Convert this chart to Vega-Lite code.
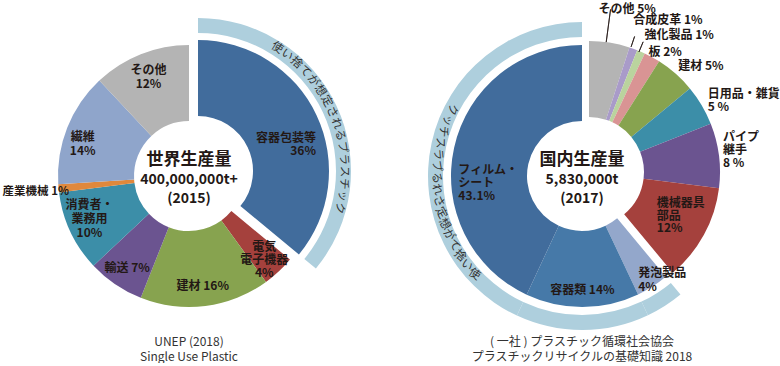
{
"$schema":"https://vega.github.io/schema/vega-lite/v6.json",
"padding":0,
"background":"white",
"spacing":15,
"bounds":"flush",
"config":{"view":{"stroke":null},"text":{"font":"Noto Sans CJK JP","color":"#231815"}},
"resolve":{"scale":{"color":"independent","theta":"independent"}},
"datasets":{
 "world":[
  {"name":"容器包装等","label":"容器包装等\n36%","value":36,"single":true},
  {"name":"電気電子機器","label":"電気\n電子機器\n4%","value":4,"single":false},
  {"name":"建材","label":"建材 16%","value":16,"single":false},
  {"name":"輸送","label":"輸送 7%","value":7,"single":false},
  {"name":"消費者・業務用","label":"消費者・\n業務用\n10%","value":10,"single":false},
  {"name":"産業機械","label":"産業機械 1%","value":1,"single":false},
  {"name":"繊維","label":"繊維\n14%","value":14,"single":false},
  {"name":"その他","label":"その他\n12%","value":12,"single":false}
 ],
 "japan":[
  {"name":"その他","label":"その他 5%","value":5,"single":false},
  {"name":"合成皮革","label":"合成皮革 1%","value":1,"single":false},
  {"name":"強化製品","label":"強化製品 1%","value":1,"single":false},
  {"name":"板","label":"板 2%","value":2,"single":false},
  {"name":"建材","label":"建材 5%","value":5,"single":false},
  {"name":"日用品・雑貨","label":"日用品・雑貨\n5 %","value":5,"single":false},
  {"name":"パイプ継手","label":"パイプ\n継手\n8 %","value":8,"single":false},
  {"name":"機械器具部品","label":"機械器具\n部品\n12%","value":12,"single":false},
  {"name":"発泡製品","label":"発泡製品\n4%","value":4,"single":true},
  {"name":"容器類","label":"容器類 14%","value":14,"single":true},
  {"name":"フィルム・シート","label":"フィルム・\nシート\n43.1%","value":43.1,"single":true}
 ],
 "band":[{"ch":"使"},{"ch":"い"},{"ch":"捨"},{"ch":"て"},{"ch":"が"},{"ch":"想"},{"ch":"定"},{"ch":"さ"},{"ch":"れ"},{"ch":"る"},{"ch":"プ"},{"ch":"ラ"},{"ch":"ス"},{"ch":"チ"},{"ch":"ッ"},{"ch":"ク"}],
 "info":[
  {"chart":"world","title":"世界生産量","amount":"400,000,000t+","year":"(2015)","source":"UNEP (2018)\nSingle Use Plastic"},
  {"chart":"japan","title":"国内生産量","amount":"5,830,000t","year":"(2017)","source":"( 一社 ) プラスチック循環社会協会\nプラスチックリサイクルの基礎知識 2018"}
 ]
},
"hconcat":[
 {
  "width":378,"height":352,
  "data":{"name":"world"},
  "transform":[{"window":[{"op":"row_number","as":"idx"}]}],
  "resolve":{"scale":{"theta":"independent"}},
  "layer":[
   {"mark":{"type":"arc","radius":131,"radius2":55},
    "encoding":{
     "theta":{"field":"value","type":"quantitative","stack":true,"scale":{"domain":[0,100]}},
     "order":{"field":"idx","type":"quantitative"},
     "color":{"field":"name","type":"nominal","legend":null,"scale":{"domain":["容器包装等","電気電子機器","建材","輸送","消費者・業務用","産業機械","繊維","その他"],"range":["#416c9c","#a5413d","#87a34f","#6b5490","#3c8ea8","#e0883c","#8fa5cb","#b4b4b4"]}},
     "opacity":{"condition":{"test":"datum.single","value":0},"value":1}}},
   {"mark":{"type":"arc","radius":131,"radius2":55,"xOffset":9,"yOffset":-5},
    "encoding":{
     "theta":{"field":"value","type":"quantitative","stack":true,"scale":{"domain":[0,100]}},
     "order":{"field":"idx","type":"quantitative"},
     "color":{"field":"name","type":"nominal","legend":null},
     "opacity":{"condition":{"test":"datum.single","value":1},"value":0}}},
   {"mark":{"type":"arc","radius":153,"radius2":138,"xOffset":9,"yOffset":-5,"color":"#aecfdd"},
    "encoding":{
     "theta":{"field":"value","type":"quantitative","stack":true,"scale":{"domain":[0,100]}},
     "order":{"field":"idx","type":"quantitative"},
     "detail":{"field":"name"},
     "opacity":{"condition":{"test":"datum.single","value":1},"value":0}}},
   {"data":{"name":"band"},
    "transform":[{"window":[{"op":"row_number","as":"i"}]}],
    "mark":{"type":"text","radius":146,"xOffset":9,"yOffset":-5,"fontSize":11.5,"color":"#333333","align":"center","baseline":"middle"},
    "encoding":{
     "text":{"field":"ch"},
     "theta":{"field":"i","type":"quantitative","scale":{"domain":[1,16],"range":[0.571,1.826],"zero":false}},
     "angle":{"field":"i","type":"quantitative","scale":{"domain":[1,16],"range":[32.7,104.6],"zero":false}}}},
   {"mark":{"type":"text","radius":110,"align":"center","baseline":"middle","dy":1,"fontSize":12,"fontWeight":"bold"},
    "encoding":{
     "theta":{"field":"value","type":"quantitative","stack":true,"scale":{"domain":[0,100]}},
     "order":{"field":"idx","type":"quantitative"},
     "detail":{"field":"name"},
     "text":{"condition":{"test":"indexof(['建材','輸送'], datum.name) >= 0","field":"label","type":"nominal"},"value":""}}},
   {"mark":{"type":"text","radius":110,"align":"center","baseline":"middle","dy":-9,"fontSize":12,"fontWeight":"bold","lineBreak":"\n","lineHeight":13},
    "encoding":{
     "theta":{"field":"value","type":"quantitative","stack":true,"scale":{"domain":[0,100]}},
     "order":{"field":"idx","type":"quantitative"},
     "detail":{"field":"name"},
     "text":{"condition":{"test":"datum.name === '電気電子機器'","field":"label","type":"nominal"},"value":""}}},
   {"mark":{"type":"text","radius":110,"align":"center","baseline":"middle","dy":-18,"fontSize":12,"fontWeight":"bold","lineBreak":"\n","lineHeight":14},
    "encoding":{
     "theta":{"field":"value","type":"quantitative","stack":true,"scale":{"domain":[0,100]}},
     "order":{"field":"idx","type":"quantitative"},
     "detail":{"field":"name"},
     "text":{"condition":{"test":"datum.name === '消費者・業務用'","field":"label","type":"nominal"},"value":""}}},
   {"mark":{"type":"text","radius":110,"align":"center","baseline":"middle","dy":-4,"fontSize":12,"fontWeight":"bold","lineBreak":"\n","lineHeight":14},
    "encoding":{
     "theta":{"field":"value","type":"quantitative","stack":true,"scale":{"domain":[0,100]}},
     "order":{"field":"idx","type":"quantitative"},
     "detail":{"field":"name"},
     "text":{"condition":{"test":"datum.name === 'その他'","field":"label","type":"nominal"},"value":""}}},
   {"mark":{"type":"text","radius":110,"align":"center","baseline":"middle","dx":-4,"dy":1.5,"fontSize":12,"fontWeight":"bold","lineBreak":"\n","lineHeight":14},
    "encoding":{
     "theta":{"field":"value","type":"quantitative","stack":true,"scale":{"domain":[0,100]}},
     "order":{"field":"idx","type":"quantitative"},
     "detail":{"field":"name"},
     "text":{"condition":{"test":"datum.name === '繊維'","field":"label","type":"nominal"},"value":""}}},
   {"mark":{"type":"text","radius":124,"align":"right","baseline":"middle","dx":3.5,"dy":4,"fontSize":11.5,"fontWeight":"bold"},
    "encoding":{
     "theta":{"field":"value","type":"quantitative","stack":true,"scale":{"domain":[0,100]}},
     "order":{"field":"idx","type":"quantitative"},
     "detail":{"field":"name"},
     "text":{"condition":{"test":"datum.name === '産業機械'","field":"label","type":"nominal"},"value":""}}},
   {"mark":{"type":"text","radius":100,"xOffset":9,"yOffset":-5,"align":"right","baseline":"middle","dx":27.5,"dy":9.6,"fontSize":12,"fontWeight":"bold","lineBreak":"\n","lineHeight":13},
    "encoding":{
     "theta":{"field":"value","type":"quantitative","stack":true,"scale":{"domain":[0,100]}},
     "order":{"field":"idx","type":"quantitative"},
     "detail":{"field":"name"},
     "text":{"condition":{"test":"datum.single","field":"label","type":"nominal"},"value":""}}},
   {"data":{"name":"info"},"transform":[{"filter":"datum.chart === 'world'"}],
    "mark":{"type":"text","dy":-16,"fontSize":17,"fontWeight":"bold","align":"center","baseline":"middle"},
    "encoding":{"text":{"field":"title"}}},
   {"data":{"name":"info"},"transform":[{"filter":"datum.chart === 'world'"}],
    "mark":{"type":"text","dy":4,"fontSize":14,"fontWeight":"bold","align":"center","baseline":"middle"},
    "encoding":{"text":{"field":"amount"}}},
   {"data":{"name":"info"},"transform":[{"filter":"datum.chart === 'world'"}],
    "mark":{"type":"text","dy":23,"fontSize":14,"fontWeight":"bold","align":"center","baseline":"middle"},
    "encoding":{"text":{"field":"year"}}},
   {"data":{"name":"info"},"transform":[{"filter":"datum.chart === 'world'"}],
    "mark":{"type":"text","dy":166,"fontSize":12,"align":"center","baseline":"middle","lineBreak":"\n","lineHeight":15,"color":"#333333"},
    "encoding":{"text":{"field":"source"}}}
  ]
 },
 {
  "width":378,"height":352,
  "data":{"name":"japan"},
  "transform":[{"window":[{"op":"row_number","as":"idx"}]}],
  "resolve":{"scale":{"theta":"independent"}},
  "layer":[
   {"mark":{"type":"arc","radius":131,"radius2":55},
    "encoding":{
     "theta":{"field":"value","type":"quantitative","stack":true,"scale":{"domain":[0,100.1]}},
     "order":{"field":"idx","type":"quantitative"},
     "color":{"field":"name","type":"nominal","legend":null,"scale":{"domain":["その他","合成皮革","強化製品","板","建材","日用品・雑貨","パイプ継手","機械器具部品","発泡製品","容器類","フィルム・シート"],"range":["#b4b4b4","#a99bc9","#bad39e","#d99494","#87a34f","#3c8ea8","#6b5490","#a5413d","#93a7cb","#4679a8","#416c9c"]}},
     "opacity":{"condition":{"test":"datum.single","value":1},"value":0}}},
   {"mark":{"type":"arc","radius":131,"radius2":55,"xOffset":7,"yOffset":-4},
    "encoding":{
     "theta":{"field":"value","type":"quantitative","stack":true,"scale":{"domain":[0,100.1]}},
     "order":{"field":"idx","type":"quantitative"},
     "color":{"field":"name","type":"nominal","legend":null},
     "opacity":{"condition":{"test":"datum.single","value":0},"value":1}}},
   {"mark":{"type":"arc","radius":154,"radius2":139,"color":"#aecfdd"},
    "encoding":{
     "theta":{"field":"value","type":"quantitative","stack":true,"scale":{"domain":[0,100.1]}},
     "order":{"field":"idx","type":"quantitative"},
     "detail":{"field":"name"},
     "opacity":{"condition":{"test":"datum.single","value":1},"value":0}}},
   {"data":{"name":"band"},
    "transform":[{"window":[{"op":"row_number","as":"i"}]}],
    "mark":{"type":"text","radius":146,"fontSize":11.5,"color":"#333333","align":"center","baseline":"middle"},
    "encoding":{
     "text":{"field":"ch"},
     "theta":{"field":"i","type":"quantitative","scale":{"domain":[1,16],"range":[3.971,5.184],"zero":false}},
     "angle":{"field":"i","type":"quantitative","scale":{"domain":[1,16],"range":[227.5,297],"zero":false}}}},
   {"transform":[{"filter":"datum.name === 'その他'"}],
    "mark":{"type":"arc","radius":164,"radius2":131,"xOffset":7,"yOffset":-4,"filled":false,"stroke":"#231815","strokeWidth":0.8},
    "encoding":{
     "theta":{"datum":2.1,"type":"quantitative","scale":{"domain":[0,100.1]}},
     "theta2":{"datum":2.1}}},
   {"transform":[{"filter":"datum.name === '合成皮革'"}],
    "mark":{"type":"arc","radius":143,"radius2":132,"xOffset":7,"yOffset":-4,"filled":false,"stroke":"#231815","strokeWidth":0.8},
    "encoding":{
     "theta":{"datum":5.17,"type":"quantitative","scale":{"domain":[0,100.1]}},
     "theta2":{"datum":5.17}}},
   {"transform":[{"filter":"datum.name === '強化製品'"}],
    "mark":{"type":"arc","radius":141,"radius2":130,"xOffset":7,"yOffset":-4,"filled":false,"stroke":"#231815","strokeWidth":0.8},
    "encoding":{
     "theta":{"datum":6.28,"type":"quantitative","scale":{"domain":[0,100.1]}},
     "theta2":{"datum":6.28}}},
   {"mark":{"type":"text","radius":114,"align":"center","baseline":"middle","fontSize":12,"fontWeight":"bold"},
    "encoding":{
     "theta":{"field":"value","type":"quantitative","stack":true,"scale":{"domain":[0,100.1]}},
     "order":{"field":"idx","type":"quantitative"},
     "detail":{"field":"name"},
     "text":{"condition":{"test":"datum.name === '容器類'","field":"label","type":"nominal"},"value":""}}},
   {"mark":{"type":"text","radius":126,"align":"left","baseline":"middle","dx":-11.5,"dy":-9,"fontSize":12,"fontWeight":"bold","lineBreak":"\n","lineHeight":14},
    "encoding":{
     "theta":{"field":"value","type":"quantitative","stack":true,"scale":{"domain":[0,100.1]}},
     "order":{"field":"idx","type":"quantitative"},
     "detail":{"field":"name"},
     "text":{"condition":{"test":"datum.name === '発泡製品'","field":"label","type":"nominal"},"value":""}}},
   {"mark":{"type":"text","radius":100,"align":"left","baseline":"middle","dx":-26,"dy":15.6,"fontSize":12,"fontWeight":"bold","lineBreak":"\n","lineHeight":13},
    "encoding":{
     "theta":{"field":"value","type":"quantitative","stack":true,"scale":{"domain":[0,100.1]}},
     "order":{"field":"idx","type":"quantitative"},
     "detail":{"field":"name"},
     "text":{"condition":{"test":"datum.name === 'フィルム・シート'","field":"label","type":"nominal"},"value":""}}},
   {"mark":{"type":"text","radius":91,"xOffset":7,"yOffset":-4,"align":"left","baseline":"middle","dx":-12,"dy":-12.7,"fontSize":12,"fontWeight":"bold","lineBreak":"\n","lineHeight":12.7},
    "encoding":{
     "theta":{"field":"value","type":"quantitative","stack":true,"scale":{"domain":[0,100.1]}},
     "order":{"field":"idx","type":"quantitative"},
     "detail":{"field":"name"},
     "text":{"condition":{"test":"datum.name === '機械器具部品'","field":"label","type":"nominal"},"value":""}}},
   {"mark":{"type":"text","radius":138,"xOffset":7,"yOffset":-4,"align":"left","baseline":"middle","dx":-3,"dy":-17.5,"fontSize":12,"fontWeight":"bold","lineBreak":"\n","lineHeight":13},
    "encoding":{
     "theta":{"field":"value","type":"quantitative","stack":true,"scale":{"domain":[0,100.1]}},
     "order":{"field":"idx","type":"quantitative"},
     "detail":{"field":"name"},
     "text":{"condition":{"test":"datum.name === 'パイプ継手'","field":"label","type":"nominal"},"value":""}}},
   {"mark":{"type":"text","radius":138,"xOffset":7,"yOffset":-4,"align":"left","baseline":"middle","dy":-7.6,"fontSize":12,"fontWeight":"bold","lineBreak":"\n","lineHeight":12.5},
    "encoding":{
     "theta":{"field":"value","type":"quantitative","stack":true,"scale":{"domain":[0,100.1]}},
     "order":{"field":"idx","type":"quantitative"},
     "detail":{"field":"name"},
     "text":{"condition":{"test":"datum.name === '日用品・雑貨'","field":"label","type":"nominal"},"value":""}}},
   {"mark":{"type":"text","radius":138,"xOffset":7,"yOffset":-4,"align":"left","baseline":"middle","dx":-2,"dy":-2.5,"fontSize":12,"fontWeight":"bold"},
    "encoding":{
     "theta":{"field":"value","type":"quantitative","stack":true,"scale":{"domain":[0,100.1]}},
     "order":{"field":"idx","type":"quantitative"},
     "detail":{"field":"name"},
     "text":{"condition":{"test":"datum.name === '建材'","field":"label","type":"nominal"},"value":""}}},
   {"mark":{"type":"text","radius":138,"xOffset":7,"yOffset":-4,"align":"left","baseline":"middle","dx":-7,"dy":1,"fontSize":12,"fontWeight":"bold"},
    "encoding":{
     "theta":{"field":"value","type":"quantitative","stack":true,"scale":{"domain":[0,100.1]}},
     "order":{"field":"idx","type":"quantitative"},
     "detail":{"field":"name"},
     "text":{"condition":{"test":"datum.name === '板'","field":"label","type":"nominal"},"value":""}}},
   {"mark":{"type":"text","radius":169,"xOffset":7,"yOffset":-4,"align":"left","baseline":"middle","dx":-17,"dy":3.5,"fontSize":12,"fontWeight":"bold"},
    "encoding":{
     "theta":{"field":"value","type":"quantitative","stack":true,"scale":{"domain":[0,100.1]}},
     "order":{"field":"idx","type":"quantitative"},
     "detail":{"field":"name"},
     "text":{"condition":{"test":"datum.name === 'その他'","field":"label","type":"nominal"},"value":""}}},
   {"mark":{"type":"text","radius":163,"xOffset":7,"yOffset":-4,"align":"left","baseline":"middle","dx":-11,"dy":1.5,"fontSize":12,"fontWeight":"bold"},
    "encoding":{
     "theta":{"field":"value","type":"quantitative","stack":true,"scale":{"domain":[0,100.1]}},
     "order":{"field":"idx","type":"quantitative"},
     "detail":{"field":"name"},
     "text":{"condition":{"test":"datum.name === '合成皮革'","field":"label","type":"nominal"},"value":""}}},
   {"mark":{"type":"text","radius":150,"xOffset":7,"yOffset":-4,"align":"left","baseline":"middle","dx":-4,"dy":1,"fontSize":12,"fontWeight":"bold"},
    "encoding":{
     "theta":{"field":"value","type":"quantitative","stack":true,"scale":{"domain":[0,100.1]}},
     "order":{"field":"idx","type":"quantitative"},
     "detail":{"field":"name"},
     "text":{"condition":{"test":"datum.name === '強化製品'","field":"label","type":"nominal"},"value":""}}},
   {"data":{"name":"info"},"transform":[{"filter":"datum.chart === 'japan'"}],
    "mark":{"type":"text","dy":-16,"fontSize":17,"fontWeight":"bold","align":"center","baseline":"middle"},
    "encoding":{"text":{"field":"title"}}},
   {"data":{"name":"info"},"transform":[{"filter":"datum.chart === 'japan'"}],
    "mark":{"type":"text","dy":4,"fontSize":14,"fontWeight":"bold","align":"center","baseline":"middle"},
    "encoding":{"text":{"field":"amount"}}},
   {"data":{"name":"info"},"transform":[{"filter":"datum.chart === 'japan'"}],
    "mark":{"type":"text","dy":23,"fontSize":14,"fontWeight":"bold","align":"center","baseline":"middle"},
    "encoding":{"text":{"field":"year"}}},
   {"data":{"name":"info"},"transform":[{"filter":"datum.chart === 'japan'"}],
    "mark":{"type":"text","dy":166,"fontSize":12,"align":"center","baseline":"middle","lineBreak":"\n","lineHeight":15,"color":"#333333"},
    "encoding":{"text":{"field":"source"}}}
  ]
 }
]
}
